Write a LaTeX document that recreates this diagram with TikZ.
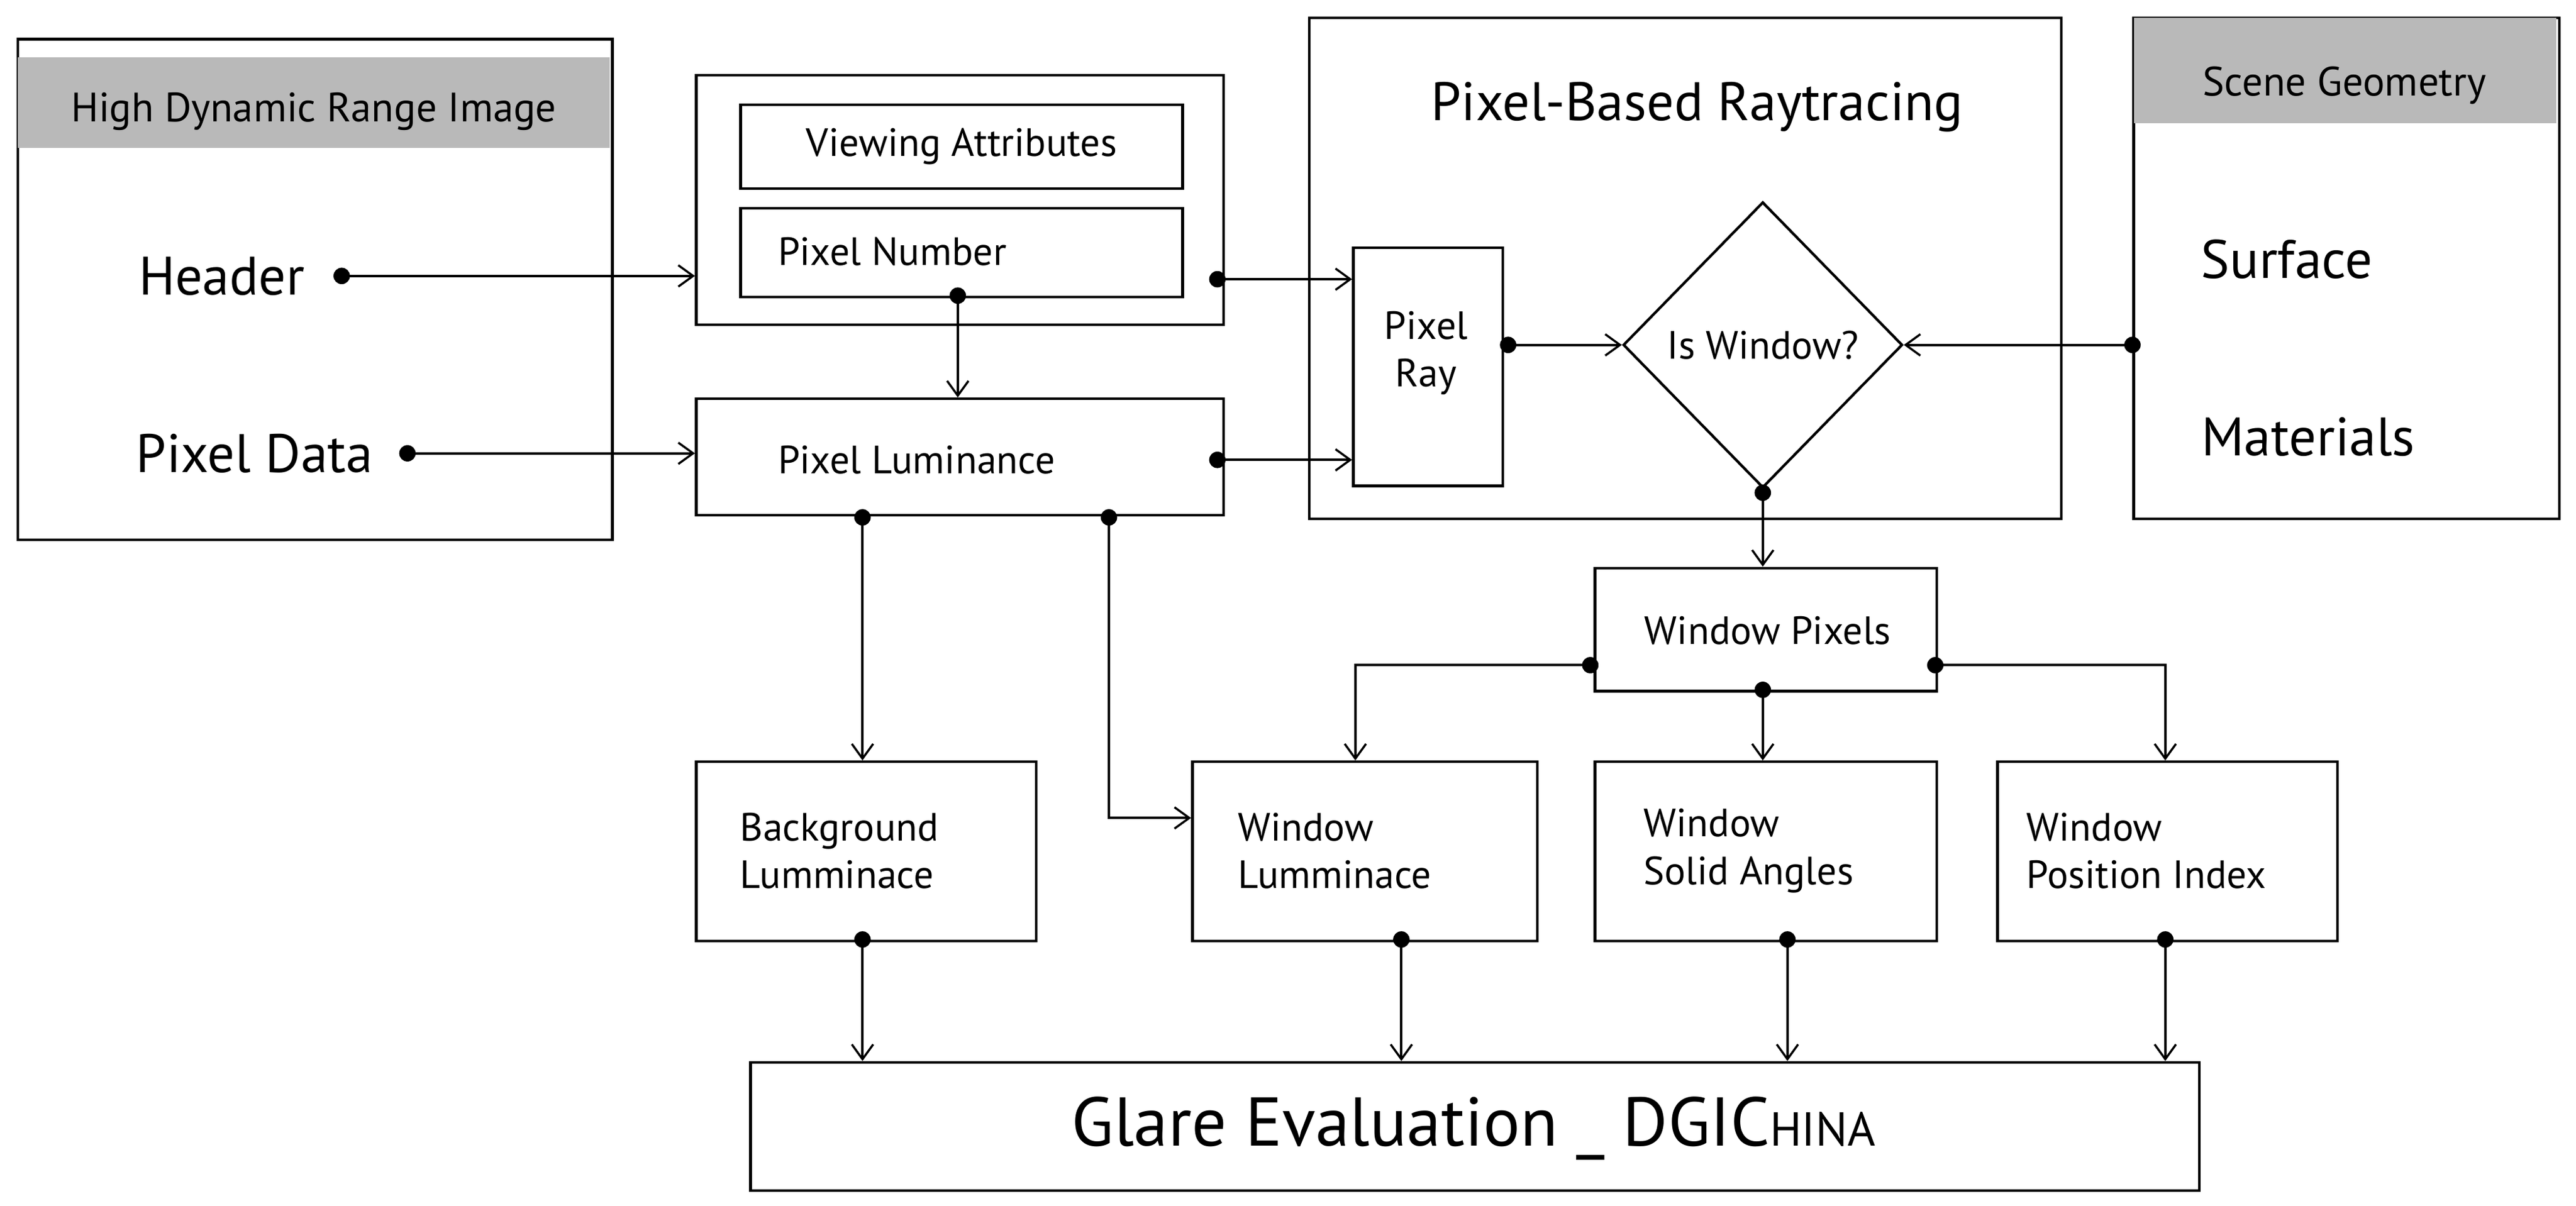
\documentclass[tikz,border=0pt]{standalone}
\usepackage{fontspec}
\setmainfont{PT Sans}
\usetikzlibrary{shapes.geometric,arrows.meta}
\begin{document}
\begin{tikzpicture}[x=1pt,y=-1pt,
  box/.style={draw,line width=1.6pt,inner sep=0pt,anchor=north west},
  arr/.style={line width=1.5pt,-{Straight Barb[length=9pt,width=13pt,line width=1.3pt]}},
  dot/.style={circle,fill,inner sep=0pt,minimum size=10pt},
  t/.style={font=\fontsize{24}{29}\selectfont,align=left}]
\useasboundingbox (0,0) rectangle (1568,734);
\tikzset{bx/.code args={#1,#2,#3,#4}{}}
% boxes
\node[box,minimum width=362pt,minimum height=305pt] (hdr) at (10,23) {};
\fill[gray!55] (11,35) rectangle (371,90);
\node[t,font=\fontsize{25}{29}\selectfont] (hdrt) at (191,68) {High Dynamic Range Image};
\node[font=\fontsize{33}{38}\selectfont] (header) at (135,168) {Header};
\node[font=\fontsize{33}{38}\selectfont] (pdata) at (155,276) {Pixel Data};
\node[box,minimum width=321pt,minimum height=152pt] (outer) at (423,45) {};
\node[box,minimum width=269pt,minimum height=51pt,t] (va) at (450,63) {};
\node[t] at (va.center) {Viewing Attributes};
\node[box,minimum width=269pt,minimum height=54pt] (pn) at (450,126) {};
\node[t,anchor=west] at (470,153) {Pixel Number};
\node[box,minimum width=321pt,minimum height=71pt] (pl) at (423,242) {};
\node[t,anchor=west] at (470,280) {Pixel Luminance};
\node[box,minimum width=458pt,minimum height=305pt] (rt) at (796,10) {};
\node[font=\fontsize{33}{38}\selectfont] at (1033,65) {Pixel-Based Raytracing};
\node[box,minimum width=91pt,minimum height=145pt] (ray) at (823,150) {};
\node[t,align=center] at (868,215) {Pixel\\Ray};
\node[diamond,draw,line width=1.6pt,minimum width=170pt,minimum height=174pt,inner sep=0pt] (dia) at (1073,210) {};
\node[t] at (1073,210) {Is Window?};
\node[box,minimum width=259pt,minimum height=305pt] (sg) at (1298,10) {};
\fill[gray!55] (1299,11) rectangle (1556,75);
\node[t,font=\fontsize{25}{29}\selectfont] at (1427,52) {Scene Geometry};
\node[font=\fontsize{33}{38}\selectfont] (surf) at (1392,158) {Surface};
\node[font=\fontsize{33}{38}\selectfont] (mat) at (1405,266) {Materials};
\node[box,minimum width=208pt,minimum height=75pt] (wp) at (970,345) {};
\node[t] at (1076,384) {Window Pixels};
\node[box,minimum width=207pt,minimum height=109pt] (bg) at (423,463) {};
\node[t,anchor=west] at (447,518) {Background\\Lumminace};
\node[box,minimum width=210pt,minimum height=109pt] (wl) at (725,463) {};
\node[t,anchor=west] at (750,518) {Window\\Lumminace};
\node[box,minimum width=208pt,minimum height=109pt] (ws) at (970,463) {};
\node[t,anchor=west] at (997,518) {Window\\Solid Angles};
\node[box,minimum width=207pt,minimum height=109pt] (wpi) at (1215,463) {};
\node[t,anchor=west] at (1230,518) {Window\\Position Index};
\node[box,minimum width=882pt,minimum height=78pt] (gl) at (456,646) {};
\node[font=\fontsize{42}{48}\selectfont] at (897,687) {Glare Evaluation \_ DGIC{\fontsize{29}{34}\selectfont HINA}};
% dots
\foreach \n/\x/\y in {d1/208/168,d2/248/276,d3/583/180,d4/741/170,d5/741/280,d6/918/210,d7/1298/210,d8/1073/300,
  d9/968/405,d10/1073/420,d11/1178/405,d12/525/315,d13/675/315,d14/525/572,d15/853/572,d16/1088/572,d17/1318/572}
  \node[dot] (\n) at (\x,\y) {};
% connectors
\draw[arr] (d1.center) -- (outer.west |- d1);
\draw[arr] (d2.center) -- (pl.west |- d2);
\draw[arr] (d3.center) -- (pl.north -| d3);
\draw[arr] (d4.center) -- (ray.west |- d4);
\draw[arr] (d5.center) -- (ray.west |- d5);
\draw[arr] (d6.center) -- (dia.west);
\draw[arr] (d7.center) -- (dia.east);
\draw[arr] (d8.center) -- (wp.north -| d8);
\draw[arr] (d9.center) -- (825,405) -- (wl.north -| 825,0);
\draw[arr] (d10.center) -- (ws.north -| d10);
\draw[arr] (d11.center) -- (1318,405) -- (wpi.north -| 1318,0);
\draw[arr] (d12.center) -- (bg.north -| d12);
\draw[arr] (d13.center) -- (675,498) -- (wl.west |- 0,498);
\draw[arr] (d14.center) -- (gl.north -| d14);
\draw[arr] (d15.center) -- (gl.north -| d15);
\draw[arr] (d16.center) -- (gl.north -| d16);
\draw[arr] (d17.center) -- (gl.north -| d17);
\end{tikzpicture}
\end{document}
